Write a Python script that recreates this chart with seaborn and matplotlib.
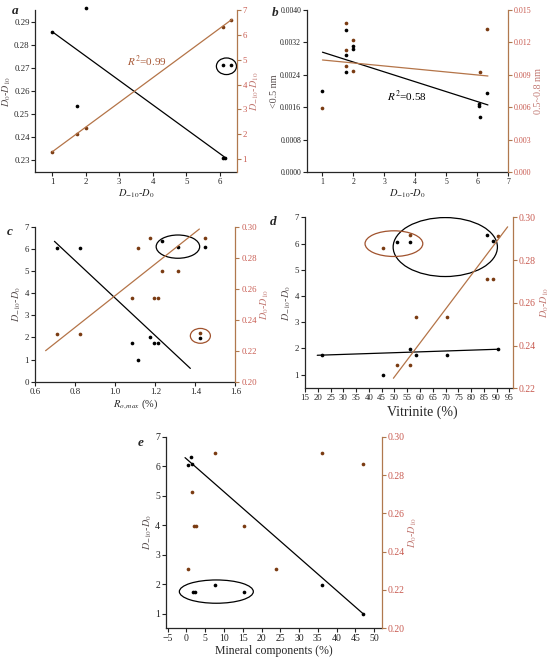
import matplotlib
matplotlib.use('Agg')
import matplotlib.pyplot as plt
from matplotlib.patches import Ellipse
import seaborn as sns

# ---- data ----
# a
a_x_black = [1, 1.75, 2, 6.1, 6.15]
a_y_black = [0.2857, 0.2534, 0.2958, 0.2307, 0.2307]
a_x_circ = [6.1, 6.33]
a_y_circ = [0.2712, 0.2712]
a_x_red = [1, 1.75, 2, 6.1, 6.33]
a_y_red = [1.3, 2.0, 2.26, 6.33, 6.6]
a_fit_black_x = [1, 6.2]
a_fit_black_y = [0.2857, 0.2307]
a_fit_red_x = [1, 6.37]
a_fit_red_y = [1.29, 6.63]

# b
b_x_black = [1, 1.77, 1.77, 1.77, 1.98, 1.98, 6.05, 6.05, 6.09, 6.33]
b_y_black = [0.00200, 0.00351, 0.00288, 0.00248, 0.00311, 0.00303, 0.00168, 0.00163, 0.00136, 0.00195]
b_x_orange = [1, 1.77, 1.77, 1.77, 1.98, 1.98, 6.09, 6.33]
b_y_orange = [0.0059, 0.0138, 0.0113, 0.0098, 0.0122, 0.0094, 0.0093, 0.0132]
b_fit_black_x = [1, 6.35]
b_fit_black_y = [0.00296, 0.00166]
b_fit_orange_x = [1, 6.35]
b_fit_orange_y = [0.01038, 0.0089]

# c
c_x = [0.712, 0.823, 1.083, 1.113, 1.173, 1.193, 1.213, 1.233, 1.313, 1.425, 1.45]
c_black = [6.04, 6.04, 1.75, 1.0, 2.0, 1.75, 1.75, 6.34, 6.1, 1.98, 6.1]
c_orange = [0.231, 0.231, 0.2538, 0.286, 0.2925, 0.2538, 0.2538, 0.2716, 0.2716, 0.2312, 0.2925]
c_fit_black_x = [0.697, 1.375]
c_fit_black_y = [6.34, 0.6]
c_fit_orange_x = [0.653, 1.42]
c_fit_orange_y = [0.22, 0.2985]

# d
d_x_black = [21.8, 45.5, 51.2, 55.9, 56.2, 58.3, 70.4, 86.4, 88.6, 90.6]
d_black = [1.74, 1.0, 6.05, 6.05, 1.97, 1.74, 1.74, 6.32, 6.09, 1.97]
d_x_orange = [45.5, 51.2, 55.9, 56.2, 58.3, 70.4, 86.4, 88.6, 90.6]
d_orange = [0.2855, 0.2311, 0.2311, 0.2917, 0.2535, 0.2535, 0.271, 0.271, 0.2914]
d_fit_black_x = [19.8, 90.6]
d_fit_black_y = [1.74, 1.97]
d_fit_orange_x = [49.6, 94.3]
d_fit_orange_y = [0.2247, 0.2956]

# e
e_x_black = [0.33, 1.22, 1.57, 1.84, 2.37, 7.6, 15.4, 36.2, 47.0]
e_black = [6.03, 6.32, 6.09, 1.74, 1.74, 1.98, 1.74, 1.98, 1.0]
e_x_orange = [0.33, 1.4, 2.0, 2.46, 7.6, 15.4, 23.9, 36.2, 47.0]
e_orange = [0.2308, 0.2711, 0.2536, 0.2536, 0.2917, 0.2536, 0.2308, 0.2917, 0.2856]
e_fit_x = [-0.38, 47.0]
e_fit_y = [6.29, 1.0]

# ---- style ----
sns.set_style('ticks')
plt.rcParams['font.family'] = ['Liberation Serif', 'DejaVu Serif']
plt.rcParams['mathtext.fontset'] = 'stix'

DOT = '#7a3b12'
LINE = '#b47448'
RSPINE = '#b0784e'
RTICK = '#c85a50'
RLABEL = '#c27a74'
LLABEL = '#5a5050'

D10_0 = '$D_{-10}$-$D_0$'
D0_10 = '$D_0$-$D_{10}$'

fig = plt.figure(figsize=(5.5, 6.66), dpi=100)


def make_axes(rect, ls=6.3, rs=6.3):
    ax = fig.add_axes(rect)
    ax2 = ax.twinx()
    for a in (ax, ax2):
        a.spines['top'].set_visible(False)
    ax.spines['right'].set_visible(False)
    ax2.spines['left'].set_visible(False)
    ax2.spines['bottom'].set_visible(False)
    ax2.spines['right'].set_color(RSPINE)
    ax.tick_params(direction='out', length=3, width=0.8, labelsize=ls, pad=1.2, colors='#222222')
    ax2.tick_params(direction='out', length=3, width=0.8, labelsize=rs, pad=1.2,
                    color=RSPINE, labelcolor=RTICK)
    for s in ('left', 'bottom'):
        ax.spines[s].set_linewidth(0.9)
    ax2.spines['right'].set_linewidth(0.9)
    return ax, ax2


def dots(ax, x, y, c):
    sns.scatterplot(x=x, y=y, ax=ax, color=c, s=7, linewidth=0, legend=False, clip_on=False)


def line(ax, x, y, c):
    sns.lineplot(x=x, y=y, ax=ax, color=c, lw=0.9, legend=False)


def labels(ax, ax2, xl, yl, yr, xs=7.5):
    ax.set_xlabel(xl, fontsize=xs, labelpad=1)
    ax.set_ylabel(yl, fontsize=7.3, color=LLABEL, labelpad=1)
    ax2.set_ylabel(yr, fontsize=7.3, color=RLABEL, labelpad=1.5)


# ---- panel a ----
ax, ax2 = make_axes([0.0645, 0.7417, 0.3655, 0.2432])
line(ax, a_fit_black_x, a_fit_black_y, 'black')
dots(ax, a_x_black, a_y_black, 'black')
dots(ax, a_x_circ, a_y_circ, 'black')
line(ax2, a_fit_red_x, a_fit_red_y, LINE)
dots(ax2, a_x_red, a_y_red, DOT)
ax.add_patch(Ellipse((6.2, 0.2707), 0.6, 0.0072, fill=False, ec='black', lw=0.9))
ax.set_xlim(0.5, 6.5)
ax.set_ylim(0.2248, 0.2951)
ax2.set_ylim(0.476, 7.0)
ax.set_xticks([1, 2, 3, 4, 5, 6])
ax.set_yticks([0.23, 0.24, 0.25, 0.26, 0.27, 0.28, 0.29])
ax.set_yticklabels(['0.23', '0.24', '0.25', '0.26', '0.27', '0.28', '0.29'])
ax2.set_yticks([1, 2, 3, 4, 5, 6, 7])
labels(ax, ax2, D10_0, D0_10, '$D_{-10}$-$D_{10}$')
ax.text(0.553, 0.68, '$R^2$=0.99', transform=ax.transAxes, fontsize=8,
        color='#a85a38', ha='center', va='center')

# ---- panel b ----
ax, ax2 = make_axes([0.5582, 0.7413, 0.3655, 0.2437], ls=5.6, rs=5.8)
line(ax, b_fit_black_x, b_fit_black_y, 'black')
dots(ax, b_x_black, b_y_black, 'black')
line(ax2, b_fit_orange_x, b_fit_orange_y, LINE)
dots(ax2, b_x_orange, b_y_orange, DOT)
ax.set_xlim(0.5, 7)
ax.set_ylim(0, 0.004)
ax2.set_ylim(0, 0.015)
ax.set_xticks([1, 2, 3, 4, 5, 6, 7])
ax.set_yticks([0, 0.0008, 0.0016, 0.0024, 0.0032, 0.0040])
ax.set_yticklabels(['0.0000', '0.0008', '0.0016', '0.0024', '0.0032', '0.0040'])
ax2.set_yticks([0, 0.003, 0.006, 0.009, 0.012, 0.015])
ax2.set_yticklabels(['0.000', '0.003', '0.006', '0.009', '0.012', '0.015'])
labels(ax, ax2, D10_0, '<0.5 nm', '0.5~0.8 nm')
ax.text(0.496, 0.466, '$R^2$=0.58', transform=ax.transAxes, fontsize=8,
        color='black', ha='center', va='center')

# ---- panel c ----
ax, ax2 = make_axes([0.0636, 0.4269, 0.3645, 0.2327])
line(ax, c_fit_black_x, c_fit_black_y, 'black')
dots(ax, c_x, c_black, 'black')
line(ax2, c_fit_orange_x, c_fit_orange_y, LINE)
dots(ax2, c_x, c_orange, DOT)
ax.add_patch(Ellipse((1.313, 6.1), 0.217, 1.05, fill=False, ec='black', lw=0.9))
ax.add_patch(Ellipse((1.425, 2.07), 0.1, 0.67, fill=False, ec='#a0522d', lw=0.9))
ax.set_xlim(0.6, 1.6)
ax.set_ylim(0, 7)
ax2.set_ylim(0.2, 0.3)
ax.set_xticks([0.6, 0.8, 1.0, 1.2, 1.4, 1.6])
ax.set_xticklabels(['0.6', '0.8', '1.0', '1.2', '1.4', '1.6'])
ax.set_yticks(range(0, 8))
ax2.set_yticks([0.20, 0.22, 0.24, 0.26, 0.28, 0.30])
ax2.set_yticklabels(['0.20', '0.22', '0.24', '0.26', '0.28', '0.30'])
labels(ax, ax2, '$R_{o,max}$ (%)', D10_0, D0_10)

# ---- panel d ----
ax, ax2 = make_axes([0.5545, 0.417, 0.3787, 0.2565], ls=6.3, rs=7)
line(ax, d_fit_black_x, d_fit_black_y, 'black')
dots(ax, d_x_black, d_black, 'black')
line(ax2, d_fit_orange_x, d_fit_orange_y, LINE)
dots(ax2, d_x_orange, d_orange, DOT)
ax.add_patch(Ellipse((69.9, 5.87), 40.8, 2.25, fill=False, ec='black', lw=0.9))
ax.add_patch(Ellipse((49.8, 6.0), 22.6, 0.98, fill=False, ec='#a0522d', lw=0.9))
ax.set_xlim(15, 96.5)
ax.set_ylim(0.48, 7.0)
ax2.set_ylim(0.22, 0.30)
ax.set_xticks(range(15, 100, 5))
ax.set_yticks(range(1, 8))
ax2.set_yticks([0.22, 0.24, 0.26, 0.28, 0.30])
ax2.set_yticklabels(['0.22', '0.24', '0.26', '0.28', '0.30'])
labels(ax, ax2, 'Vitrinite (%)', D10_0, D0_10, xs=10)
ax.xaxis.set_label_coords(0.565, -0.1)

# ---- panel e ----
ax, ax2 = make_axes([0.3018, 0.0566, 0.3922, 0.2877], ls=7, rs=7)
line(ax, e_fit_x, e_fit_y, 'black')
dots(ax, e_x_black, e_black, 'black')
dots(ax2, e_x_orange, e_orange, DOT)
ax.add_patch(Ellipse((7.96, 1.745), 19.7, 0.79, fill=False, ec='black', lw=0.9))
ax.set_xlim(-5.45, 52)
ax.set_ylim(0.5, 7)
ax2.set_ylim(0.2, 0.3)
ax.set_xticks(range(-5, 55, 5))
ax.set_xticklabels(['\u22125'] + [str(v) for v in range(0, 55, 5)])
ax.set_yticks(range(1, 8))
ax2.set_yticks([0.20, 0.22, 0.24, 0.26, 0.28, 0.30])
ax2.set_yticklabels(['0.20', '0.22', '0.24', '0.26', '0.28', '0.30'])
labels(ax, ax2, 'Mineral components (%)', D10_0, D0_10, xs=8.5)

# panel letters
for lab, x, y in [('a', 0.027, 0.984), ('b', 0.5, 0.98), ('c', 0.018, 0.652),
                  ('d', 0.497, 0.667), ('e', 0.255, 0.335)]:
    fig.text(x, y, lab, fontsize=9.5, fontweight='bold', fontstyle='italic',
             ha='center', va='center')

fig.savefig('out.png', dpi=100)
